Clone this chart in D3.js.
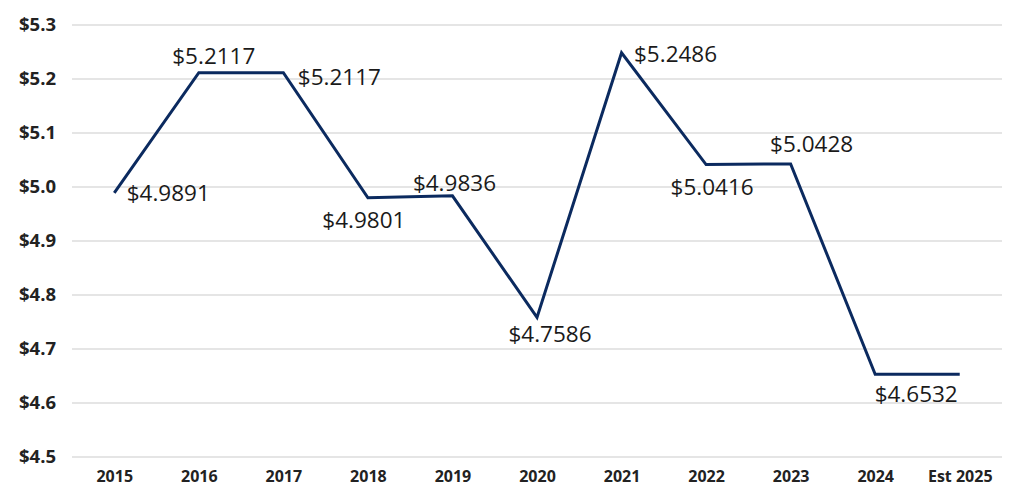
<!DOCTYPE html>
<html><head><meta charset="utf-8">
<script src="https://cdn.jsdelivr.net/npm/d3@7"></script>
<style>
html,body{margin:0;padding:0;background:#fff;}
svg{display:block;}
</style></head>
<body>
<svg id="chart" width="1011" height="497"></svg>
<script>
const categories = ["2015","2016","2017","2018","2019","2020","2021","2022","2023","2024","Est 2025"];
const values = [4.9891,5.2117,5.2117,4.9801,4.9836,4.7586,5.2486,5.0416,5.0428,4.6532,4.6532];
const labels = ["$4.9891","$5.2117","$5.2117","$4.9801","$4.9836","$4.7586","$5.2486","$5.0416","$5.0428","$4.6532",""];
const yTicks = [4.5,4.6,4.7,4.8,4.9,5.0,5.1,5.2,5.3];
// label offsets (dx center, dy center) relative to point
const labelOffsets = [[54,0],[15,-17],[56,4],[-4,22],[2,-13],[13,16],[54,1],[6,22],[21,-20],[41,19],[0,0]];

const svg = d3.select("#chart");
const x = d3.scalePoint().domain(categories).range([72,1002]).padding(0.5);
const y = d3.scaleLinear().domain([4.5,5.3]).range([457,25]);

const fontLabel = "'Open Sans', sans-serif";

// gridlines
svg.append("g").selectAll("line").data(yTicks).join("line")
  .attr("x1",72).attr("x2",1002)
  .attr("y1",d=>y(d)).attr("y2",d=>y(d))
  .attr("stroke","#dcdcdc").attr("stroke-width",1.5);

// y axis labels
const yAxis = d3.axisLeft(y).tickValues(yTicks).tickSize(0).tickPadding(0)
  .tickFormat(d=>"$"+d3.format(".1f")(d));
svg.append("g").attr("transform","translate(56,0)").call(yAxis)
  .call(g=>g.select(".domain").remove())
  .selectAll("text")
  .attr("font-family",fontLabel).attr("font-weight",700).attr("font-size",18.5)
  .attr("fill","#222");

// x axis labels
const xAxis = d3.axisBottom(x).tickSize(0).tickPadding(0);
svg.append("g").attr("transform","translate(0,471)").call(xAxis)
  .call(g=>g.select(".domain").remove())
  .selectAll("text")
  .attr("font-family",fontLabel).attr("font-weight",700).attr("font-size",16)
  .attr("fill","#222");

// line
const line = d3.line().x((d,i)=>x(categories[i])).y(d=>y(d));
svg.append("path").datum(values).attr("d",line)
  .attr("fill","none").attr("stroke","#0b2a5f").attr("stroke-width",3)
  .attr("stroke-linejoin","miter");

// data labels
svg.append("g").selectAll("text").data(values).join("text")
  .attr("x",(d,i)=>x(categories[i])+labelOffsets[i][0])
  .attr("y",(d,i)=>y(d)+labelOffsets[i][1])
  .attr("text-anchor","middle").attr("dominant-baseline","central")
  .attr("font-family",fontLabel).attr("font-size",22.5).attr("fill","#1a1a1a")
  .text((d,i)=>labels[i]);
</script>
</body></html>
